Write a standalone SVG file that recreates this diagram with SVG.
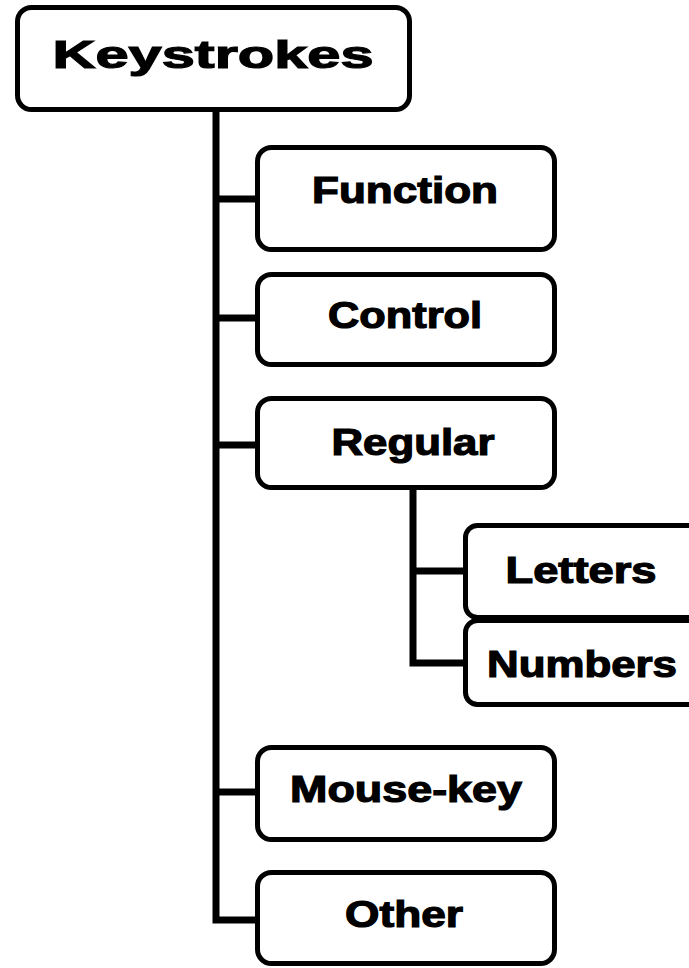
<svg xmlns="http://www.w3.org/2000/svg" width="689" height="968" viewBox="0 0 689 968">
  <style>
    .box { fill: #ffffff; stroke: #000000; stroke-width: 5; }
    .lbl { font-family: "Liberation Sans", Arial, sans-serif; font-weight: bold; fill: #000000; stroke: #000000; stroke-width: 1.2; text-anchor: middle; }
    .wire { fill: none; stroke: #000000; stroke-width: 7; stroke-linejoin: miter; }
  </style>
  <rect width="689" height="968" fill="#ffffff"/>

  <!-- connectors: main trunk with branches, then the sub-trunk under Regular -->
  <g id="connectors" class="wire">
    <path d="M216,110 V920 H260"/>
    <path d="M216,199 H260"/>
    <path d="M216,318 H260"/>
    <path d="M216,445 H260"/>
    <path d="M216,792 H260"/>
    <path d="M413,488 V663 H466"/>
    <path d="M413,571 H466"/>
  </g>

  <g id="keystrokes">
    <rect class="box" x="17.5" y="7.5" width="392" height="102" rx="14"/>
    <text class="lbl" x="213" y="68" font-size="39" textLength="321" lengthAdjust="spacingAndGlyphs">Keystrokes</text>
  </g>
  <g id="function">
    <rect class="box" x="257.5" y="147.5" width="297" height="102" rx="14"/>
    <text class="lbl" x="405" y="203" font-size="36" textLength="186" lengthAdjust="spacingAndGlyphs">Function</text>
  </g>
  <g id="control">
    <rect class="box" x="257.5" y="274.5" width="297" height="90" rx="14"/>
    <text class="lbl" x="405" y="328" font-size="36" textLength="154" lengthAdjust="spacingAndGlyphs">Control</text>
  </g>
  <g id="regular">
    <rect class="box" x="257.5" y="398.5" width="297" height="89" rx="14"/>
    <text class="lbl" x="413" y="455" font-size="36" textLength="163" lengthAdjust="spacingAndGlyphs">Regular</text>
  </g>
  <g id="letters">
    <rect class="box" x="465.5" y="525.5" width="240" height="92" rx="12"/>
    <text class="lbl" x="581" y="583" font-size="36" textLength="151" lengthAdjust="spacingAndGlyphs">Letters</text>
  </g>
  <g id="numbers">
    <rect class="box" x="465.5" y="620.5" width="240" height="84" rx="12"/>
    <text class="lbl" x="582" y="677" font-size="36" textLength="190" lengthAdjust="spacingAndGlyphs">Numbers</text>
  </g>
  <g id="mouse-key">
    <rect class="box" x="257.5" y="747.5" width="297" height="92" rx="14"/>
    <text class="lbl" x="406" y="802" font-size="36" textLength="232" lengthAdjust="spacingAndGlyphs">Mouse-key</text>
  </g>
  <g id="other">
    <rect class="box" x="257.5" y="872.5" width="297" height="91" rx="14"/>
    <text class="lbl" x="404" y="927" font-size="36" textLength="118" lengthAdjust="spacingAndGlyphs">Other</text>
  </g>
</svg>
